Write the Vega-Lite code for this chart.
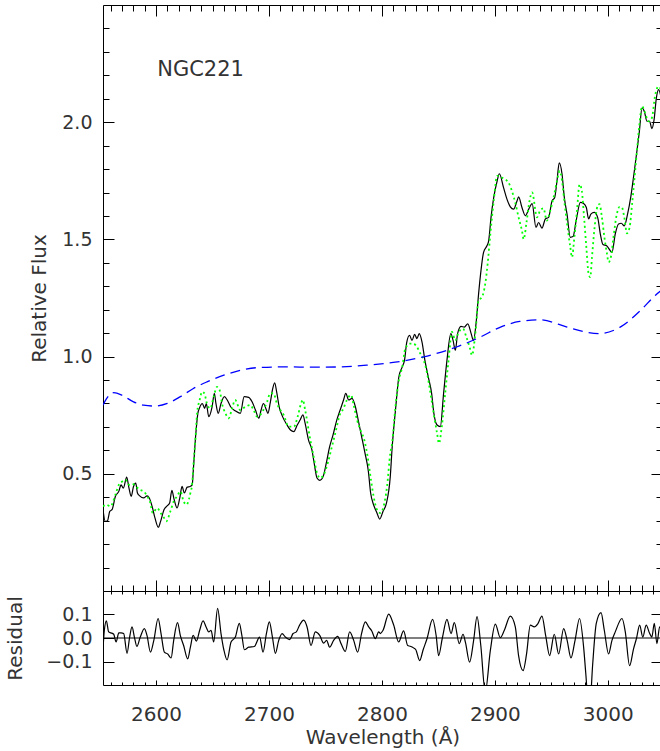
{
  "$schema": "https://vega.github.io/schema/vega-lite/v6.json",
  "padding": {"left": 5, "top": 4, "right": 0, "bottom": 0},
  "spacing": 0,
  "bounds": "flush",
  "config": {
    "view": {"stroke": "black", "strokeWidth": 1},
    "axis": {"grid": false, "domain": false, "tickColor": "black", "tickWidth": 1, "labelFont": "DejaVu Sans", "labelFontSize": 19, "labelColor": "#333", "titleFont": "DejaVu Sans", "titleFontSize": 20, "titleFontWeight": "normal", "titleColor": "#333"}
  },
  "vconcat": [
    {
      "width": 559,
      "height": 586,
      "layer": [
        {
          "data": {"name": "obs"},
          "mark": {"type": "line", "color": "black", "strokeWidth": 1.2, "interpolate": "monotone", "clip": true},
          "encoding": {
            "x": {"field": "w", "type": "quantitative", "scale": {"domain": [2553, 3048], "nice": false, "zero": false},
              "axis": {"orient": "bottom", "values": [2560,2570,2580,2590,2600,2610,2620,2630,2640,2650,2660,2670,2680,2690,2700,2710,2720,2730,2740,2750,2760,2770,2780,2790,2800,2810,2820,2830,2840,2850,2860,2870,2880,2890,2900,2910,2920,2930,2940,2950,2960,2970,2980,2990,3000,3010,3020,3030,3040], "labels": false, "title": null,
                "tickSize": {"condition": {"test": "datum.value % 100 === 0", "value": -11}, "value": -6}}},
            "y": {"field": "f", "type": "quantitative", "scale": {"domain": [0, 2.5], "nice": false, "zero": false},
              "axis": {"orient": "left", "values": [0.1,0.2,0.3,0.4,0.5,0.6,0.7,0.8,0.9,1.0,1.1,1.2,1.3,1.4,1.5,1.6,1.7,1.8,1.9,2.0,2.1,2.2,2.3,2.4], "format": ".1f",
                "labelExpr": "abs(datum.value*2 - round(datum.value*2)) < 0.001 ? datum.label : ''",
                "title": "Relative Flux", "labelPadding": 22, "titlePadding": 12,
                "tickSize": {"condition": {"test": "abs(datum.value*2 - round(datum.value*2)) < 0.001", "value": -11}, "value": -6}}}
          }
        },
        {
          "data": {"name": "model"},
          "mark": {"type": "line", "color": "#00ff00", "strokeWidth": 1.8, "strokeDash": [2, 3], "interpolate": "monotone", "clip": true},
          "encoding": {
            "x": {"field": "w", "type": "quantitative", "scale": {"domain": [2553, 3048], "nice": false, "zero": false},
              "axis": {"orient": "top", "values": [2560,2570,2580,2590,2600,2610,2620,2630,2640,2650,2660,2670,2680,2690,2700,2710,2720,2730,2740,2750,2760,2770,2780,2790,2800,2810,2820,2830,2840,2850,2860,2870,2880,2890,2900,2910,2920,2930,2940,2950,2960,2970,2980,2990,3000,3010,3020,3030,3040], "labels": false, "title": null,
                "tickSize": {"condition": {"test": "datum.value % 100 === 0", "value": -11}, "value": -6}}},
            "y": {"field": "f", "type": "quantitative", "scale": {"domain": [0, 2.5], "nice": false, "zero": false},
              "axis": {"orient": "right", "values": [0.1,0.2,0.3,0.4,0.5,0.6,0.7,0.8,0.9,1.0,1.1,1.2,1.3,1.4,1.5,1.6,1.7,1.8,1.9,2.0,2.1,2.2,2.3,2.4], "labels": false, "title": null,
                "tickSize": {"condition": {"test": "abs(datum.value*2 - round(datum.value*2)) < 0.001", "value": -11}, "value": -6}}}
          }
        },
        {
          "data": {"name": "cont"},
          "mark": {"type": "line", "color": "#0000ff", "strokeWidth": 1.3, "strokeDash": [10, 6], "interpolate": "monotone", "clip": true},
          "encoding": {
            "x": {"field": "w", "type": "quantitative", "scale": {"domain": [2553, 3048], "nice": false, "zero": false}, "axis": null},
            "y": {"field": "f", "type": "quantitative", "scale": {"domain": [0, 2.5], "nice": false, "zero": false}, "axis": null}
          }
        },
        {
          "data": {"values": [{"w": 2601, "f": 2.196, "label": "NGC221"}]},
          "mark": {"type": "text", "align": "left", "baseline": "alphabetic", "font": "DejaVu Sans", "fontSize": 21, "color": "#333"},
          "encoding": {
            "x": {"field": "w", "type": "quantitative", "scale": {"domain": [2553, 3048], "nice": false, "zero": false}, "axis": null},
            "y": {"field": "f", "type": "quantitative", "scale": {"domain": [0, 2.5], "nice": false, "zero": false}, "axis": null},
            "text": {"field": "label"}
          }
        }
      ],
      "resolve": {"axis": {"x": "independent", "y": "independent"}}
    },
    {
      "width": 559,
      "height": 94,
      "layer": [
        {
          "data": {"name": "resid"},
          "mark": {"type": "rule", "color": "black", "strokeWidth": 1.2},
          "encoding": {
            "x": {"aggregate": "min", "field": "w", "type": "quantitative", "scale": {"domain": [2553, 3048], "nice": false, "zero": false},
              "axis": {"orient": "top", "values": [2560,2570,2580,2590,2600,2610,2620,2630,2640,2650,2660,2670,2680,2690,2700,2710,2720,2730,2740,2750,2760,2770,2780,2790,2800,2810,2820,2830,2840,2850,2860,2870,2880,2890,2900,2910,2920,2930,2940,2950,2960,2970,2980,2990,3000,3010,3020,3030,3040], "labels": false, "title": null,
                "tickSize": {"condition": {"test": "datum.value % 100 === 0", "value": -5}, "value": -3}}},
            "x2": {"aggregate": "max", "field": "w"},
            "y": {"datum": 0, "type": "quantitative", "scale": {"domain": [-0.2, 0.2], "nice": false, "zero": false},
              "axis": {"orient": "right", "values": [-0.1, 0.1], "labels": false, "title": null, "tickSize": -11}}
          }
        },
        {
          "data": {"name": "resid"},
          "mark": {"type": "line", "color": "black", "strokeWidth": 1.2, "interpolate": "monotone", "clip": true},
          "encoding": {
            "x": {"field": "w", "type": "quantitative", "scale": {"domain": [2553, 3048], "nice": false, "zero": false},
              "axis": {"orient": "bottom", "values": [2560,2570,2580,2590,2600,2610,2620,2630,2640,2650,2660,2670,2680,2690,2700,2710,2720,2730,2740,2750,2760,2770,2780,2790,2800,2810,2820,2830,2840,2850,2860,2870,2880,2890,2900,2910,2920,2930,2940,2950,2960,2970,2980,2990,3000,3010,3020,3030,3040], "format": "d",
                "labelExpr": "datum.value % 100 === 0 ? datum.label : ''", "labelFontSize": 20, "labelPadding": 24,
                "title": "Wavelength (Å)", "titlePadding": 3,
                "tickSize": {"condition": {"test": "datum.value % 100 === 0", "value": -5}, "value": -3}}},
            "y": {"field": "r", "type": "quantitative", "scale": {"domain": [-0.2, 0.2], "nice": false, "zero": false},
              "axis": {"orient": "left", "values": [-0.1, 0, 0.1], "format": ".1f", "title": "Residual", "labelPadding": 22, "titlePadding": 20, "tickSize": -11}}
          }
        }
      ],
      "resolve": {"axis": {"x": "independent", "y": "independent"}}
    }
  ],
  "datasets": {
    "obs": [
      {"w":2553,"f":0.347},{"w":2555,"f":0.297},{"w":2557,"f":0.30},{"w":2559,"f":0.34},{"w":2561,"f":0.347},{"w":2564,"f":0.404},{"w":2567,"f":0.425},{"w":2569,"f":0.453},{"w":2571,"f":0.439},{"w":2574,"f":0.486},{"w":2576,"f":0.439},{"w":2578,"f":0.404},{"w":2580,"f":0.446},{"w":2582,"f":0.46},{"w":2583.5,"f":0.418},{"w":2585.5,"f":0.406},{"w":2589,"f":0.397},{"w":2592,"f":0.406},{"w":2594,"f":0.397},{"w":2596.5,"f":0.361},{"w":2599,"f":0.312},{"w":2602,"f":0.272},{"w":2604,"f":0.297},{"w":2607,"f":0.347},{"w":2610,"f":0.364},{"w":2612,"f":0.375},{"w":2614,"f":0.429},{"w":2616,"f":0.39},{"w":2618.6,"f":0.354},{"w":2621,"f":0.397},{"w":2623,"f":0.446},{"w":2625,"f":0.418},{"w":2627.5,"f":0.443},{"w":2630,"f":0.446},{"w":2632,"f":0.453},{"w":2633,"f":0.517},{"w":2635,"f":0.659},{"w":2637,"f":0.758},{"w":2638.6,"f":0.783},{"w":2641,"f":0.80},{"w":2643,"f":0.779},{"w":2644.5,"f":0.80},{"w":2646.6,"f":0.744},{"w":2649.6,"f":0.786},{"w":2651.6,"f":0.843},{"w":2653,"f":0.80},{"w":2655,"f":0.758},{"w":2657.5,"f":0.80},{"w":2660.5,"f":0.829},{"w":2663,"f":0.815},{"w":2666,"f":0.786},{"w":2670,"f":0.769},{"w":2674.6,"f":0.758},{"w":2678,"f":0.829},{"w":2682,"f":0.826},{"w":2685,"f":0.807},{"w":2688,"f":0.772},{"w":2691,"f":0.737},{"w":2693,"f":0.772},{"w":2695,"f":0.80},{"w":2697.7,"f":0.772},{"w":2699,"f":0.758},{"w":2701,"f":0.80},{"w":2703,"f":0.857},{"w":2705,"f":0.888},{"w":2707,"f":0.843},{"w":2709,"f":0.786},{"w":2712,"f":0.744},{"w":2716,"f":0.708},{"w":2719,"f":0.687},{"w":2722,"f":0.68},{"w":2725,"f":0.708},{"w":2727.8,"f":0.732},{"w":2730,"f":0.751},{"w":2732,"f":0.715},{"w":2735,"f":0.644},{"w":2738,"f":0.602},{"w":2740,"f":0.545},{"w":2742.5,"f":0.482},{"w":2745,"f":0.472},{"w":2748,"f":0.489},{"w":2751,"f":0.552},{"w":2753.7,"f":0.616},{"w":2756.7,"f":0.666},{"w":2760,"f":0.729},{"w":2763,"f":0.772},{"w":2766,"f":0.815},{"w":2768,"f":0.843},{"w":2770.5,"f":0.815},{"w":2773.5,"f":0.822},{"w":2776.5,"f":0.786},{"w":2779,"f":0.729},{"w":2782,"f":0.659},{"w":2785,"f":0.588},{"w":2788,"f":0.51},{"w":2790,"f":0.418},{"w":2792.6,"f":0.368},{"w":2795.6,"f":0.333},{"w":2798,"f":0.307},{"w":2801,"f":0.34},{"w":2804,"f":0.375},{"w":2807.4,"f":0.489},{"w":2809,"f":0.609},{"w":2812,"f":0.772},{"w":2815,"f":0.914},{"w":2818,"f":0.956},{"w":2820,"f":0.985},{"w":2822,"f":1.062},{"w":2824.5,"f":1.091},{"w":2826.6,"f":1.069},{"w":2829,"f":1.095},{"w":2831,"f":1.077},{"w":2833,"f":1.098},{"w":2835.5,"f":1.062},{"w":2838,"f":0.985},{"w":2841,"f":0.914},{"w":2844,"f":0.843},{"w":2846,"f":0.758},{"w":2848.8,"f":0.708},{"w":2851.7,"f":0.701},{"w":2854.6,"f":0.843},{"w":2857.6,"f":0.985},{"w":2861,"f":1.098},{"w":2863,"f":1.069},{"w":2865,"f":1.027},{"w":2867,"f":1.098},{"w":2870,"f":1.129},{"w":2873,"f":1.126},{"w":2876,"f":1.14},{"w":2879,"f":1.098},{"w":2881,"f":1.069},{"w":2883.6,"f":1.154},{"w":2885.6,"f":1.268},{"w":2887.7,"f":1.367},{"w":2890,"f":1.445},{"w":2893,"f":1.473},{"w":2894.5,"f":1.494},{"w":2896.6,"f":1.594},{"w":2899,"f":1.679},{"w":2902,"f":1.749},{"w":2904,"f":1.78},{"w":2907.7,"f":1.721},{"w":2910.7,"f":1.672},{"w":2913.7,"f":1.639},{"w":2916.6,"f":1.629},{"w":2919.6,"f":1.664},{"w":2921,"f":1.681},{"w":2924,"f":1.636},{"w":2927,"f":1.601},{"w":2930,"f":1.629},{"w":2933,"f":1.653},{"w":2936.4,"f":1.551},{"w":2938.7,"f":1.572},{"w":2941.7,"f":1.548},{"w":2944.7,"f":1.587},{"w":2947.6,"f":1.594},{"w":2950.6,"f":1.664},{"w":2953,"f":1.679},{"w":2955,"f":1.749},{"w":2957,"f":1.827},{"w":2959.5,"f":1.778},{"w":2961.5,"f":1.679},{"w":2963.9,"f":1.608},{"w":2966.8,"f":1.509},{"w":2969.2,"f":1.512},{"w":2972,"f":1.58},{"w":2975.7,"f":1.658},{"w":2978.6,"f":1.653},{"w":2981,"f":1.636},{"w":2983,"f":1.587},{"w":2985,"f":1.608},{"w":2988,"f":1.615},{"w":2991,"f":1.594},{"w":2993.4,"f":1.523},{"w":2995.7,"f":1.478},{"w":2999,"f":1.473},{"w":3003.7,"f":1.445},{"w":3006.6,"f":1.523},{"w":3009.5,"f":1.566},{"w":3012,"f":1.569},{"w":3014.6,"f":1.558},{"w":3017.5,"f":1.608},{"w":3020.5,"f":1.686},{"w":3023.5,"f":1.792},{"w":3025.8,"f":1.877},{"w":3028,"f":1.962},{"w":3030.3,"f":2.061},{"w":3032.3,"f":2.047},{"w":3034.7,"f":2.004},{"w":3037,"f":2.004},{"w":3039,"f":1.973},{"w":3041,"f":2.011},{"w":3043,"f":2.103},{"w":3045,"f":2.139},{"w":3047,"f":2.11}
    ],
    "model": [
      {"w":2553,"f":0.361},{"w":2556,"f":0.368},{"w":2559.5,"f":0.361},{"w":2564,"f":0.411},{"w":2567,"f":0.453},{"w":2570,"f":0.467},{"w":2573,"f":0.474},{"w":2576,"f":0.453},{"w":2579,"f":0.457},{"w":2582,"f":0.446},{"w":2585.5,"f":0.432},{"w":2589,"f":0.425},{"w":2592,"f":0.406},{"w":2595,"f":0.375},{"w":2597,"f":0.333},{"w":2601,"f":0.354},{"w":2604,"f":0.333},{"w":2607,"f":0.312},{"w":2609,"f":0.297},{"w":2612.7,"f":0.34},{"w":2615.6,"f":0.382},{"w":2618.6,"f":0.404},{"w":2621.5,"f":0.425},{"w":2624.4,"f":0.382},{"w":2627,"f":0.368},{"w":2629,"f":0.39},{"w":2630.4,"f":0.418},{"w":2632,"f":0.46},{"w":2633,"f":0.531},{"w":2635,"f":0.659},{"w":2636.3,"f":0.758},{"w":2638.6,"f":0.815},{"w":2640.7,"f":0.85},{"w":2642.8,"f":0.843},{"w":2645,"f":0.80},{"w":2648,"f":0.779},{"w":2651,"f":0.829},{"w":2654,"f":0.871},{"w":2656.3,"f":0.857},{"w":2658.4,"f":0.80},{"w":2661.4,"f":0.758},{"w":2664.3,"f":0.737},{"w":2667.3,"f":0.779},{"w":2670,"f":0.815},{"w":2674.6,"f":0.772},{"w":2679,"f":0.786},{"w":2683.5,"f":0.793},{"w":2686.4,"f":0.772},{"w":2689.4,"f":0.744},{"w":2692.3,"f":0.751},{"w":2695,"f":0.772},{"w":2698.3,"f":0.807},{"w":2701,"f":0.843},{"w":2704,"f":0.843},{"w":2707,"f":0.80},{"w":2710,"f":0.772},{"w":2713,"f":0.751},{"w":2717.4,"f":0.701},{"w":2722,"f":0.701},{"w":2725.4,"f":0.744},{"w":2728.4,"f":0.80},{"w":2730,"f":0.815},{"w":2732,"f":0.772},{"w":2736.6,"f":0.644},{"w":2739.5,"f":0.574},{"w":2742.5,"f":0.503},{"w":2745.5,"f":0.482},{"w":2748.4,"f":0.496},{"w":2752,"f":0.545},{"w":2755,"f":0.602},{"w":2758.7,"f":0.673},{"w":2762.6,"f":0.751},{"w":2766,"f":0.779},{"w":2769,"f":0.815},{"w":2772.6,"f":0.836},{"w":2775,"f":0.793},{"w":2778,"f":0.729},{"w":2781,"f":0.687},{"w":2784.4,"f":0.644},{"w":2787.3,"f":0.574},{"w":2790.3,"f":0.474},{"w":2792.6,"f":0.404},{"w":2795.6,"f":0.347},{"w":2798.5,"f":0.333},{"w":2801.5,"f":0.361},{"w":2804.5,"f":0.446},{"w":2807.4,"f":0.588},{"w":2809,"f":0.63},{"w":2812,"f":0.786},{"w":2815,"f":0.90},{"w":2818,"f":0.956},{"w":2820.7,"f":1.034},{"w":2824.5,"f":1.055},{"w":2828,"f":1.055},{"w":2831,"f":1.041},{"w":2834,"f":1.013},{"w":2837,"f":0.985},{"w":2840,"f":0.928},{"w":2843,"f":0.843},{"w":2845.8,"f":0.758},{"w":2848.8,"f":0.673},{"w":2850.5,"f":0.63},{"w":2853,"f":0.701},{"w":2856,"f":0.843},{"w":2859,"f":0.985},{"w":2862,"f":1.105},{"w":2865,"f":1.069},{"w":2868,"f":1.105},{"w":2871.8,"f":1.119},{"w":2874.7,"f":1.084},{"w":2877.6,"f":1.041},{"w":2879.8,"f":1.006},{"w":2882.7,"f":1.098},{"w":2885.6,"f":1.24},{"w":2888.6,"f":1.254},{"w":2891.5,"f":1.311},{"w":2893.6,"f":1.395},{"w":2896,"f":1.523},{"w":2899,"f":1.664},{"w":2902,"f":1.771},{"w":2906,"f":1.764},{"w":2912,"f":1.743},{"w":2915,"f":1.708},{"w":2918,"f":1.658},{"w":2921,"f":1.594},{"w":2924,"f":1.537},{"w":2925.5,"f":1.501},{"w":2928,"f":1.572},{"w":2930.7,"f":1.664},{"w":2933,"f":1.70},{"w":2937.3,"f":1.594},{"w":2940,"f":1.622},{"w":2943,"f":1.633},{"w":2946,"f":1.58},{"w":2949,"f":1.622},{"w":2952,"f":1.679},{"w":2955,"f":1.749},{"w":2957.4,"f":1.792},{"w":2959.5,"f":1.749},{"w":2961.8,"f":1.65},{"w":2964,"f":1.566},{"w":2966.8,"f":1.467},{"w":2968.3,"f":1.424},{"w":2970.4,"f":1.509},{"w":2972.7,"f":1.622},{"w":2975,"f":1.735},{"w":2977,"f":1.707},{"w":2979,"f":1.594},{"w":2981,"f":1.467},{"w":2983,"f":1.353},{"w":2984.5,"f":1.339},{"w":2986,"f":1.424},{"w":2988.3,"f":1.551},{"w":2991,"f":1.643},{"w":2992.7,"f":1.65},{"w":2994.8,"f":1.594},{"w":2997,"f":1.509},{"w":2999.3,"f":1.438},{"w":3000.7,"f":1.403},{"w":3003,"f":1.431},{"w":3005,"f":1.509},{"w":3008,"f":1.608},{"w":3010.5,"f":1.639},{"w":3012.6,"f":1.636},{"w":3014.6,"f":1.594},{"w":3017,"f":1.526},{"w":3019.3,"f":1.551},{"w":3021.5,"f":1.65},{"w":3023.7,"f":1.764},{"w":3025.8,"f":1.877},{"w":3028,"f":1.99},{"w":3030.3,"f":2.068},{"w":3033,"f":2.04},{"w":3036,"f":2.004},{"w":3039,"f":2.018},{"w":3042,"f":2.117},{"w":3045,"f":2.153},{"w":3047,"f":2.14}
    ],
    "cont": [
      {"w":2553,"f":0.793},{"w":2556,"f":0.82},{"w":2562.5,"f":0.846},{"w":2570,"f":0.835},{"w":2580,"f":0.807},{"w":2589,"f":0.793},{"w":2599.4,"f":0.789},{"w":2610,"f":0.80},{"w":2621.5,"f":0.829},{"w":2633,"f":0.864},{"w":2645,"f":0.892},{"w":2660,"f":0.921},{"w":2672,"f":0.938},{"w":2690,"f":0.953},{"w":2713,"f":0.956},{"w":2740,"f":0.955},{"w":2763,"f":0.956},{"w":2790,"f":0.965},{"w":2810,"f":0.975},{"w":2837,"f":0.999},{"w":2866,"f":1.041},{"w":2887,"f":1.083},{"w":2905,"f":1.126},{"w":2922,"f":1.15},{"w":2940,"f":1.157},{"w":2964,"f":1.126},{"w":2980,"f":1.105},{"w":2993,"f":1.098},{"w":3011,"f":1.126},{"w":3029,"f":1.197},{"w":3042,"f":1.261},{"w":3048,"f":1.285}
    ],
    "resid": [
      {"w":2553,"r":-0.046},{"w":2554.2,"r":0.033},{"w":2556,"r":0.073},{"w":2558,"r":0.026},{"w":2560,"r":0.022},{"w":2562.5,"r":0.016},{"w":2564.6,"r":-0.017},{"w":2567,"r":0.022},{"w":2569,"r":0.022},{"w":2571.3,"r":0.019},{"w":2574.3,"r":-0.065},{"w":2576.6,"r":0.004},{"w":2578.7,"r":0.047},{"w":2580.8,"r":0.004},{"w":2583,"r":-0.036},{"w":2586,"r":0.004},{"w":2589.6,"r":0.04},{"w":2592,"r":0.01},{"w":2595,"r":-0.06},{"w":2598,"r":-0.01},{"w":2601.8,"r":0.083},{"w":2604.4,"r":0.019},{"w":2607.3,"r":-0.06},{"w":2610.3,"r":-0.068},{"w":2613.3,"r":-0.085},{"w":2615.6,"r":-0.01},{"w":2619,"r":0.065},{"w":2621.5,"r":0.01},{"w":2624.4,"r":-0.032},{"w":2628,"r":-0.089},{"w":2630.4,"r":-0.039},{"w":2632.8,"r":0.011},{"w":2635.7,"r":-0.013},{"w":2638.6,"r":0.033},{"w":2641.6,"r":0.073},{"w":2644.5,"r":0.045},{"w":2646.6,"r":0.026},{"w":2648.7,"r":0.033},{"w":2651,"r":-0.017},{"w":2654.5,"r":0.126},{"w":2657.5,"r":0.019},{"w":2660,"r":-0.05},{"w":2662.9,"r":-0.093},{"w":2666.4,"r":-0.017},{"w":2670.2,"r":0.004},{"w":2673.7,"r":0.062},{"w":2676,"r":0.01},{"w":2678.2,"r":-0.05},{"w":2682,"r":-0.039},{"w":2687,"r":-0.036},{"w":2691.7,"r":0.004},{"w":2694.7,"r":-0.06},{"w":2697.7,"r":0.019},{"w":2700.3,"r":0.069},{"w":2703,"r":0.005},{"w":2705.6,"r":-0.065},{"w":2708.6,"r":-0.01},{"w":2711.6,"r":0.019},{"w":2714.5,"r":0.004},{"w":2718.3,"r":-0.007},{"w":2721.3,"r":0.019},{"w":2724.2,"r":0.026},{"w":2727.1,"r":0.055},{"w":2730.7,"r":0.076},{"w":2733.7,"r":0.047},{"w":2737.2,"r":-0.032},{"w":2741,"r":0.026},{"w":2744.9,"r":0.011},{"w":2748.4,"r":-0.022},{"w":2751,"r":-0.01},{"w":2753.7,"r":-0.039},{"w":2757.2,"r":-0.01},{"w":2760.8,"r":0.007},{"w":2763.8,"r":-0.024},{"w":2767.6,"r":-0.057},{"w":2771.4,"r":0.026},{"w":2775,"r":-0.01},{"w":2778.5,"r":-0.06},{"w":2782,"r":0.02},{"w":2785.3,"r":0.069},{"w":2788.3,"r":0.047},{"w":2791,"r":0.03},{"w":2794.2,"r":-0.003},{"w":2797.1,"r":0.026},{"w":2798.6,"r":0.019},{"w":2801,"r":0.033},{"w":2806,"r":0.102},{"w":2810.4,"r":0.055},{"w":2814.8,"r":-0.017},{"w":2819.2,"r":0.03},{"w":2822.8,"r":-0.032},{"w":2825,"r":-0.035},{"w":2828,"r":-0.042},{"w":2830,"r":-0.05},{"w":2833.4,"r":-0.096},{"w":2836.5,"r":-0.05},{"w":2839.9,"r":-0.003},{"w":2844.9,"r":0.079},{"w":2848,"r":0.01},{"w":2850.2,"r":-0.075},{"w":2853.5,"r":0.0},{"w":2857.6,"r":0.079},{"w":2861.2,"r":0.019},{"w":2864.1,"r":0.065},{"w":2868.5,"r":-0.024},{"w":2871.8,"r":0.016},{"w":2874,"r":-0.02},{"w":2877.6,"r":-0.103},{"w":2881.2,"r":-0.01},{"w":2884.2,"r":0.091},{"w":2887.5,"r":-0.03},{"w":2891.5,"r":-0.23},{"w":2896,"r":-0.053},{"w":2900.4,"r":0.059},{"w":2904.8,"r":0.001},{"w":2908.4,"r":0.033},{"w":2913.7,"r":0.093},{"w":2918.1,"r":0.047},{"w":2921,"r":-0.075},{"w":2925,"r":-0.139},{"w":2928,"r":-0.07},{"w":2931.4,"r":0.055},{"w":2934.9,"r":0.047},{"w":2938,"r":0.06},{"w":2941.7,"r":0.093},{"w":2945,"r":0.01},{"w":2948.5,"r":-0.075},{"w":2952.6,"r":0.016},{"w":2956.5,"r":-0.068},{"w":2960.9,"r":0.04},{"w":2964,"r":-0.01},{"w":2967.4,"r":-0.085},{"w":2971,"r":-0.01},{"w":2975,"r":0.083},{"w":2978.6,"r":-0.039},{"w":2980.5,"r":-0.15},{"w":2982.5,"r":-0.26},{"w":2984.5,"r":-0.26},{"w":2986.5,"r":-0.12},{"w":2989.8,"r":0.062},{"w":2994,"r":0.108},{"w":2996.9,"r":0.033},{"w":3000.7,"r":-0.068},{"w":3003.7,"r":-0.01},{"w":3006.6,"r":0.026},{"w":3012.6,"r":0.083},{"w":3015.5,"r":0.026},{"w":3019.3,"r":-0.118},{"w":3022.8,"r":-0.046},{"w":3025.5,"r":0.0},{"w":3028.2,"r":0.055},{"w":3031,"r":0.004},{"w":3034,"r":0.055},{"w":3037,"r":0.02},{"w":3039,"r":0.004},{"w":3041.2,"r":0.062},{"w":3043.5,"r":-0.024},{"w":3045.9,"r":0.047},{"w":3048,"r":0.03}
    ]
  }
}
